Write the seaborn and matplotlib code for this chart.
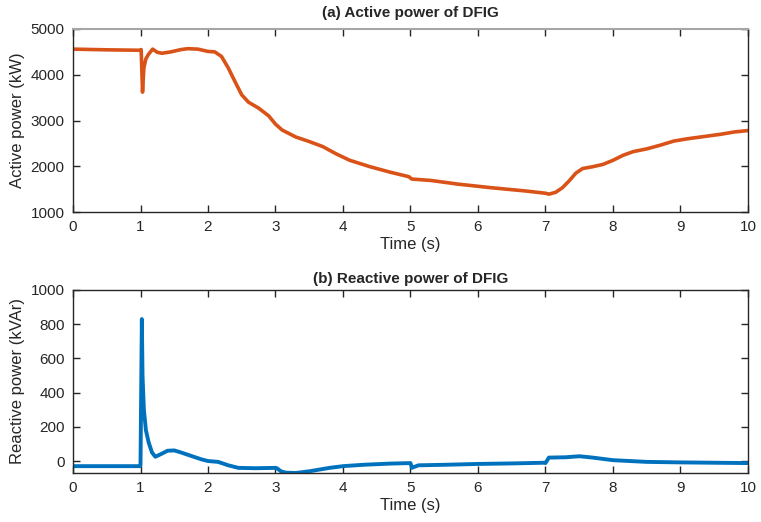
import matplotlib
matplotlib.use("Agg")
import matplotlib.pyplot as plt
import seaborn as sns
import pandas as pd

sns.set_theme(style="ticks")
plt.rcParams["font.family"] = ["Liberation Sans", "DejaVu Sans"]

# Active power of the DFIG (kW)
t_active = [0.0, 0.5, 1.0, 1.01, 1.03, 1.05, 1.08, 1.12, 1.18, 1.25, 1.32, 1.45, 1.6, 1.7,
            1.85, 2.0, 2.1, 2.2, 2.3, 2.4, 2.5, 2.6, 2.75, 2.9, 3.0, 3.1, 3.3, 3.5, 3.7,
            3.9, 4.1, 4.4, 4.7, 4.98, 5.0, 5.02, 5.3, 5.7, 6.2, 6.7, 7.0, 7.05, 7.15,
            7.25, 7.35, 7.45, 7.55, 7.7, 7.85, 8.0, 8.15, 8.3, 8.5, 8.7, 8.9, 9.1, 9.3,
            9.6, 9.8, 10.0]
p_active = [4560, 4545, 4535, 4550, 3620, 4150, 4350, 4450, 4560, 4490, 4470, 4500, 4550, 4570,
            4560, 4510, 4500, 4400, 4150, 3850, 3560, 3400, 3270, 3100, 2920, 2790, 2640, 2540, 2430,
            2270, 2130, 1990, 1870, 1770, 1740, 1720, 1690, 1610, 1530, 1460, 1410, 1390, 1430,
            1530, 1680, 1850, 1950, 1990, 2040, 2130, 2240, 2320, 2380, 2460, 2550, 2600, 2640,
            2700, 2750, 2780]

# Reactive power of the DFIG (kVAr)
t_reactive = [0.0, 0.5, 0.99, 1.0, 1.02, 1.03, 1.05, 1.08, 1.12, 1.17, 1.22, 1.3, 1.4, 1.5,
              1.6, 1.75, 1.9, 2.0, 2.15, 2.3, 2.45, 2.7, 3.0, 3.02, 3.08, 3.15, 3.3, 3.5,
              3.8, 4.0, 4.3, 4.7, 5.0, 5.02, 5.05, 5.12, 5.5, 6.0, 6.5, 6.98, 7.0, 7.05,
              7.3, 7.5, 7.7, 8.0, 8.5, 9.0, 9.5, 10.0]
q_reactive = [-30, -30, -30, -25, 830, 500, 300, 180, 110, 50, 25, 40, 60, 62,
              50, 30, 10, 0, -5, -25, -40, -42, -40, -42, -60, -68, -70, -60,
              -40, -30, -22, -15, -12, -40, -35, -25, -22, -17, -14, -10, -12, 20,
              22, 28, 20, 5, -5, -8, -10, -12]

active_df = pd.DataFrame({"Time (s)": t_active, "Active power (kW)": p_active})
reactive_df = pd.DataFrame({"Time (s)": t_reactive, "Reactive power (kVAr)": q_reactive})

fig = plt.figure(figsize=(7.61, 5.22), dpi=100)
W, H = 761, 522
ax1 = fig.add_axes([73 / W, 1 - 212 / H, 675 / W, 183 / H])
ax2 = fig.add_axes([73 / W, 1 - 473 / H, 675 / W, 183 / H])

sns.lineplot(data=active_df, x="Time (s)", y="Active power (kW)", ax=ax1,
             color="#D95319", linewidth=2.6, estimator=None, sort=False)
sns.lineplot(data=reactive_df, x="Time (s)", y="Reactive power (kVAr)", ax=ax2,
             color="#0072BD", linewidth=2.8, estimator=None, sort=False)

ax1.set_xlim(0, 10)
ax1.set_ylim(1000, 5000)
ax1.set_yticks([1000, 2000, 3000, 4000, 5000])
ax2.set_xlim(0, 10)
ax2.set_ylim(-70, 1000)
ax2.set_yticks([0, 200, 400, 600, 800, 1000])

ax1.set_title("(a) Active power of DFIG", fontsize=11, fontweight="bold", pad=9)
ax2.set_title("(b) Reactive power of DFIG", fontsize=11, fontweight="bold", pad=5)

for ax in (ax1, ax2):
    ax.set_xticks(range(0, 11))
    ax.tick_params(direction="in", top=True, right=True, length=5, width=1,
                   labelsize=11, colors="#262626", pad=6)
    for s in ax.spines.values():
        s.set_visible(True)
        s.set_color("#262626")
        s.set_linewidth(1.0)
    ax.xaxis.label.set_size(12)
    ax.yaxis.label.set_size(12)
    ax.xaxis.label.set_color("#262626")
    ax.yaxis.label.set_color("#262626")
    ax.xaxis.labelpad = 2
    ax.yaxis.labelpad = 4

ax1.spines["top"].set_color("#a6a6a6")
ax1.spines["top"].set_linewidth(1.5)

fig.savefig("out.png", dpi=100)
